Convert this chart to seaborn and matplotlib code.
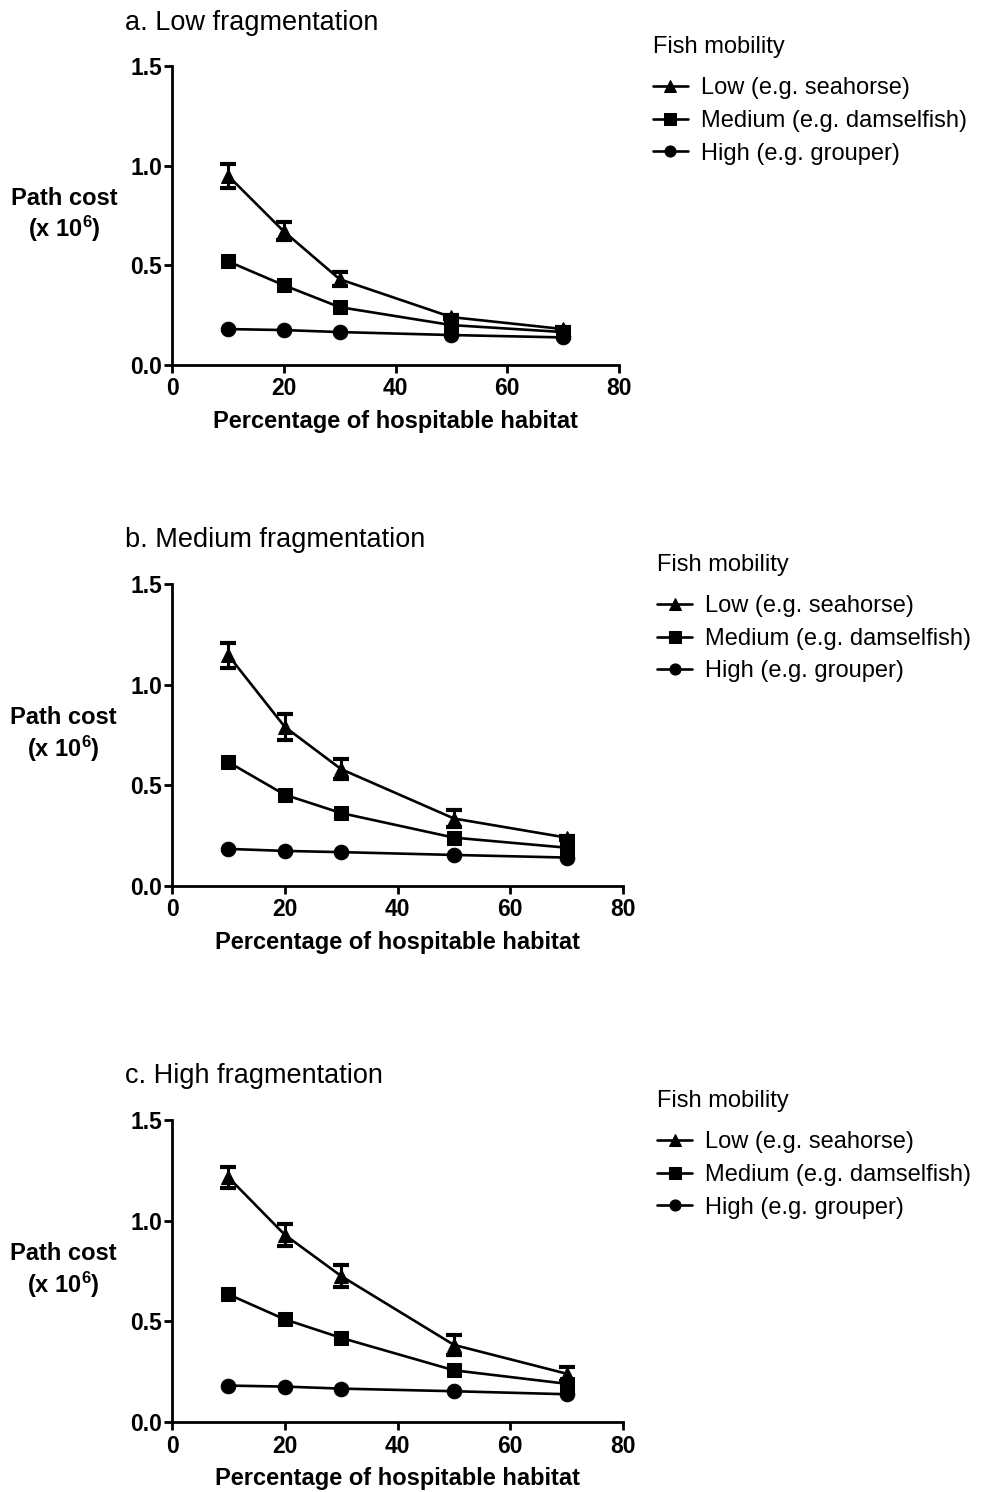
import pandas as pd
import matplotlib.pyplot as plt
import numpy as np
import seaborn as sns

# Values (path cost x 10^6)
habitat = [10, 20, 30, 50, 70]
mobility_levels = ['Low (e.g. seahorse)', 'Medium (e.g. damselfish)', 'High (e.g. grouper)']
panel_titles = ['a. Low fragmentation', 'b. Medium fragmentation', 'c. High fragmentation']

low_a = [0.95, 0.67, 0.43, 0.24, 0.18]
low_a_err = [0.06, 0.045, 0.035, 0.01, 0.01]
med_a = [0.52, 0.40, 0.29, 0.20, 0.165]
high_a = [0.18, 0.175, 0.165, 0.15, 0.138]

low_b = [1.145, 0.79, 0.58, 0.335, 0.24]
low_b_err = [0.06, 0.065, 0.05, 0.04, 0.01]
med_b = [0.615, 0.453, 0.362, 0.24, 0.19]
high_b = [0.184, 0.174, 0.168, 0.154, 0.141]

low_c = [1.215, 0.93, 0.725, 0.383, 0.24]
low_c_err = [0.052, 0.055, 0.053, 0.048, 0.035]
med_c = [0.634, 0.51, 0.418, 0.257, 0.19]
high_c = [0.181, 0.176, 0.166, 0.153, 0.138]

panels = [(low_a, low_a_err, med_a, high_a),
          (low_b, low_b_err, med_b, high_b),
          (low_c, low_c_err, med_c, high_c)]

sns.set_style('ticks')
plt.rcParams['font.family'] = ['Liberation Sans', 'DejaVu Sans']
plt.rcParams['mathtext.fontset'] = 'custom'
plt.rcParams['mathtext.bf'] = 'Liberation Sans:bold'
plt.rcParams['mathtext.rm'] = 'Liberation Sans:bold'
for k in ['text.color', 'axes.labelcolor', 'xtick.color', 'ytick.color', 'axes.edgecolor']:
    plt.rcParams[k] = 'black'

fig = plt.figure(figsize=(9.82, 14.92), dpi=100)
positions = [[0.1752, 0.7554, 0.4552, 0.2004],
             [0.1752, 0.4062, 0.4593, 0.2024],
             [0.1752, 0.0469, 0.4593, 0.2024]]

markers = {mobility_levels[0]: '^', mobility_levels[1]: 's', mobility_levels[2]: 'o'}

for i, (low, low_err, med, high) in enumerate(panels):
    ax = fig.add_axes(positions[i])
    df = pd.DataFrame({
        'habitat': habitat * 3,
        'cost': low + med + high,
        'mobility': [mobility_levels[0]] * 5 + [mobility_levels[1]] * 5 + [mobility_levels[2]] * 5,
    })
    sns.lineplot(data=df, x='habitat', y='cost', style='mobility', style_order=mobility_levels,
                 markers=markers, dashes=False, color='black', linewidth=1.9,
                 markersize=10.5, markeredgecolor='black', ax=ax, errorbar=None)
    ax.errorbar(habitat, low, yerr=low_err, fmt='none', ecolor='black',
                elinewidth=2.2, capsize=6, capthick=3)

    ax.set_xlim(0, 80)
    ax.set_ylim(0, 1.5)
    ax.set_xticks([0, 20, 40, 60, 80])
    ax.set_yticks([0.0, 0.5, 1.0, 1.5])
    ax.set_yticklabels(['0.0', '0.5', '1.0', '1.5'])
    sns.despine(ax=ax)
    for s in ['left', 'bottom']:
        ax.spines[s].set_linewidth(2)
    ax.tick_params(direction='out', width=2, length=6, labelsize=16.5, pad=1)
    ax.tick_params(axis='x', pad=3)
    for lab in ax.get_xticklabels() + ax.get_yticklabels():
        lab.set_fontweight('bold')

    ax.set_xlabel('Percentage of hospitable habitat', fontsize=17, fontweight='bold', labelpad=7)
    ax.set_ylabel('Path cost\n(x $\\mathbf{10^6}$)', fontsize=17, fontweight='bold',
                  rotation=0, ha='center', va='center', linespacing=1.2)
    ax.yaxis.set_label_coords(-0.24, 0.5)

    ax.text(-0.105, 1.145, panel_titles[i], transform=ax.transAxes, fontsize=19.5,
            ha='left', va='center')

    leg = ax.legend(loc='upper left', bbox_to_anchor=(1.075, 1.10), frameon=False,
                    title='Fish mobility', fontsize=17, title_fontsize=17, alignment='left',
                    borderaxespad=0, borderpad=0, handlelength=1.5, handletextpad=0.55,
                    labelspacing=0.45)
    leg._legend_box.sep = 14
    for h in leg.legend_handles:
        h.set_markersize(8)

fig.savefig('out.png', dpi=100)
